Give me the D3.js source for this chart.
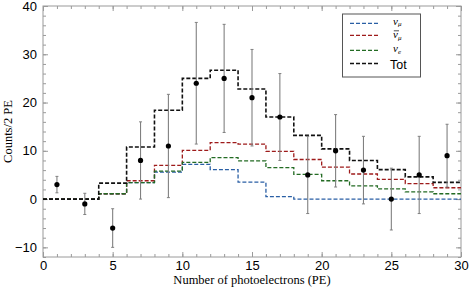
<!DOCTYPE html>
<html>
<head>
<meta charset="utf-8">
<script src="https://cdn.jsdelivr.net/npm/d3@7"></script>
<style>
  body { margin: 0; background: #fff; }
</style>
</head>
<body>
<div id="chart"></div>
<script>
// bin edges (2 PE wide) and predicted counts per bin
const binEdges = [0, 2, 4, 6, 8, 10, 12, 14, 16, 18, 20, 22, 24, 26, 28, 30];
const numu    = [0, 0, 1.1, 3.4, 5.6, 7.2, 6.1, 3.5, 0.5, 0, 0, 0, 0, 0, 0];
const numubar = [0, 0, 1.1, 3.8, 7.0, 10.1, 11.7, 11.4, 9.9, 8.2, 6.6, 5.2, 4.1, 3.2, 2.35];
const nue     = [0, 0, 1.1, 3.4, 5.8, 7.6, 8.6, 7.9, 6.5, 5.1, 3.8, 2.75, 2.1, 1.5, 1.1];
const tot     = [0, 0, 3.3, 10.8, 18.4, 25.0, 26.7, 22.8, 17.0, 13.2, 10.4, 8.0, 6.1, 4.6, 3.45];

// measured points with symmetric errors
const dataX   = [1, 3, 5, 7, 9, 11, 13, 15, 17, 19, 21, 23, 25, 27, 29];
const dataY   = [3, -1, -6, 8, 11, 24, 25, 21, 17, 5, 10, 6, 0, 5, 9];
const dataErr = [1.7, 2.2, 4, 8, 10.7, 12.6, 11.2, 10, 9, 8, 7.5, 7, 6.4, 8, 6.5];

const xMajor = [0, 5, 10, 15, 20, 25, 30];
const yMajor = [-10, 0, 10, 20, 30, 40];

(function(){
    const width = 469;
    const height = 290;
    const margin = { top: 6, right: 8, bottom: 33, left: 43 };
    const w = width - margin.left - margin.right;
    const h = height - margin.top - margin.bottom;

    const svg = d3.select("#chart")
        .append("svg")
        .attr("width", width)
        .attr("height", height);

    const g = svg.append("g")
        .attr("transform", `translate(${margin.left},${margin.top})`);

    const x = d3.scaleLinear().domain([0, 30]).range([0, w]);
    const y = d3.scaleLinear().domain([-12, 40]).range([h, 0]);

    const frameColor = "#9a9a9a";
    const tickFont = "'Liberation Sans', Arial, sans-serif";
    const serif = "'Liberation Serif', 'Times New Roman', serif";

    // frame axes, ticks pointing inward on all sides
    function styleAxis(sel, labels) {
        sel.select(".domain").remove();
        sel.selectAll("line").attr("stroke", frameColor);
        sel.selectAll("text")
            .style("font-family", tickFont)
            .style("font-size", "13px")
            .attr("fill", labels ? "#000" : "none");
    }

    g.append("g").attr("transform", `translate(0,${h})`)
        .call(d3.axisBottom(x).tickValues(d3.range(0, 31, 1)).tickSize(-3).tickFormat(""))
        .call(s => styleAxis(s, false));
    g.append("g").attr("transform", `translate(0,${h})`)
        .call(d3.axisBottom(x).tickValues(xMajor).tickSize(-5).tickPadding(4).tickFormat(d3.format("d")))
        .call(s => styleAxis(s, true));
    g.append("g")
        .call(d3.axisTop(x).tickValues(d3.range(0, 31, 1)).tickSize(-3).tickFormat(""))
        .call(s => styleAxis(s, false));
    g.append("g")
        .call(d3.axisTop(x).tickValues(xMajor).tickSize(-5).tickFormat(""))
        .call(s => styleAxis(s, false));

    g.append("g")
        .call(d3.axisLeft(y).tickValues(d3.range(-12, 41, 2)).tickSize(-3).tickFormat(""))
        .call(s => styleAxis(s, false));
    g.append("g")
        .call(d3.axisLeft(y).tickValues(yMajor).tickSize(-5).tickPadding(6).tickFormat(d3.format("d")))
        .call(s => styleAxis(s, true));
    g.append("g").attr("transform", `translate(${w},0)`)
        .call(d3.axisRight(y).tickValues(d3.range(-12, 41, 2)).tickSize(-3).tickFormat(""))
        .call(s => styleAxis(s, false));
    g.append("g").attr("transform", `translate(${w},0)`)
        .call(d3.axisRight(y).tickValues(yMajor).tickSize(-5).tickFormat(""))
        .call(s => styleAxis(s, false));

    g.append("rect")
        .attr("width", w)
        .attr("height", h)
        .attr("fill", "none")
        .attr("stroke", frameColor)
        .attr("stroke-width", 1);

    // step histograms
    const series = [
        { name: "numu", vals: numu, color: "#2a5fa5", sw: 1.3 },
        { name: "numubar", vals: numubar, color: "#9e1b1b", sw: 1.3 },
        { name: "nue", vals: nue, color: "#236b23", sw: 1.3 },
        { name: "tot", vals: tot, color: "#111", sw: 1.6 }
    ];

    const step = d3.line()
        .x(d => x(d[0]))
        .y(d => y(d[1]))
        .curve(d3.curveStepAfter);

    series.forEach(s => {
        const pts = binEdges.map((e, i) => [e, i < s.vals.length ? s.vals[i] : s.vals[s.vals.length - 1]]);
        g.append("path")
            .attr("d", step(pts))
            .attr("fill", "none")
            .attr("stroke", s.color)
            .attr("stroke-width", s.sw)
            .attr("stroke-dasharray", "4,2");
    });

    // error bars and points
    const pts = dataX.map((d, i) => ({ x: d, y: dataY[i], e: dataErr[i] }));

    g.selectAll(".err")
        .data(pts)
        .enter()
        .append("line")
        .attr("class", "err")
        .attr("x1", d => x(d.x))
        .attr("x2", d => x(d.x))
        .attr("y1", d => y(d.y - d.e))
        .attr("y2", d => y(d.y + d.e))
        .attr("stroke", "#808080")
        .attr("stroke-width", 1.1);

    g.selectAll(".cap")
        .data(pts.flatMap(d => [d.y - d.e, d.y + d.e].map(v => ({ x: d.x, v }))))
        .enter()
        .append("line")
        .attr("class", "cap")
        .attr("x1", d => x(d.x) - 1.5)
        .attr("x2", d => x(d.x) + 1.5)
        .attr("y1", d => y(d.v))
        .attr("y2", d => y(d.v))
        .attr("stroke", "#808080")
        .attr("stroke-width", 1);

    g.selectAll(".pt")
        .data(pts)
        .enter()
        .append("circle")
        .attr("class", "pt")
        .attr("cx", d => x(d.x))
        .attr("cy", d => y(d.y))
        .attr("r", 2.6)
        .attr("fill", "#000");

    // axis labels
    svg.append("text")
        .attr("x", margin.left + w / 2)
        .attr("y", 284)
        .attr("text-anchor", "middle")
        .style("font-family", serif)
        .style("font-size", "12.5px")
        .text("Number of photoelectrons (PE)");

    svg.append("text")
        .attr("transform", `translate(12,${margin.top + h / 2}) rotate(-90)`)
        .attr("text-anchor", "middle")
        .style("font-family", serif)
        .style("font-size", "12.5px")
        .text("Counts/2 PE");

    // legend
    const leg = svg.append("g");
    leg.append("rect")
        .attr("x", 342.5)
        .attr("y", 14)
        .attr("width", 78)
        .attr("height", 63)
        .attr("fill", "#fff")
        .attr("stroke", "#555")
        .attr("stroke-width", 1);

    const legRows = [23.3, 35.3, 50.3, 63.5];
    series.forEach((s, i) => {
        leg.append("line")
            .attr("x1", 350)
            .attr("x2", 380)
            .attr("y1", legRows[i])
            .attr("y2", legRows[i])
            .attr("stroke", s.color)
            .attr("stroke-width", s.sw)
            .attr("stroke-dasharray", "4,2");
    });

    function nuLabel(row, off, bar, sub) {
        const base = row + off;
        const t = leg.append("text")
            .attr("x", 393)
            .attr("y", base)
            .style("font-family", serif)
            .style("font-style", "italic")
            .style("font-size", "11px");
        t.append("tspan").text("\u03BD");
        t.append("tspan")
            .attr("dy", 1.5)
            .style("font-size", "7px")
            .text(sub);
        if (bar) {
            // bar over the nu for the antineutrino
            leg.append("line")
                .attr("x1", 393.8)
                .attr("x2", 399)
                .attr("y1", base - 7.5)
                .attr("y2", base - 7.5)
                .attr("stroke", "#000")
                .attr("stroke-width", 0.7);
        }
    }
    nuLabel(legRows[0], 1.5, false, "\u03BC");
    nuLabel(legRows[1], 3, true, "\u03BC");
    nuLabel(legRows[2], 2, false, "e");

    leg.append("text")
        .attr("x", 390)
        .attr("y", legRows[3] + 5)
        .style("font-family", tickFont)
        .style("font-size", "12.5px")
        .text("Tot");
})();
</script>
</body>
</html>
